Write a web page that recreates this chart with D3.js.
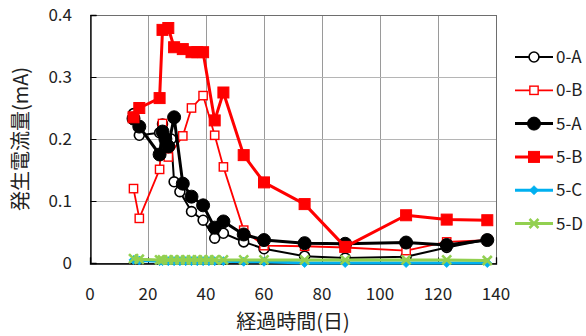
<!DOCTYPE html>
<html>
<head>
<meta charset="utf-8">
<script src="https://cdn.jsdelivr.net/npm/d3@7"></script>
<style>
  html, body { margin: 0; padding: 0; background: #fff; }
  svg text { font-family: "Noto Sans CJK JP", "Noto Sans", sans-serif; fill: #222; }
</style>
</head>
<body>
<svg id="chart" width="586" height="336"></svg>
<script>
// Elapsed days and generated current (mA) for each test body
const daysA0 = [15, 17, 24, 25, 28, 29, 31, 35, 39, 43, 46, 53, 60, 74, 88, 109, 123, 137];
const valsA0 = [0.241, 0.206, 0.21, 0.224, 0.2, 0.131, 0.115, 0.083, 0.069, 0.04, 0.048, 0.034, 0.023, 0.011, 0.008, 0.01, 0.025, 0.038];

const daysB0 = [15, 17, 24, 25, 27, 32, 35, 39, 43, 46, 53, 60, 74, 88, 109, 123, 137];
const valsB0 = [0.12, 0.072, 0.151, 0.225, 0.171, 0.205, 0.25, 0.27, 0.206, 0.155, 0.053, 0.028, 0.027, 0.025, 0.02, 0.034, 0.037];

const daysA5 = [15, 17, 24, 25, 26, 27, 29, 32, 35, 39, 43, 46, 53, 60, 74, 88, 109, 123, 137];
const valsA5 = [0.233, 0.22, 0.175, 0.212, 0.2, 0.188, 0.235, 0.128, 0.107, 0.093, 0.057, 0.067, 0.046, 0.037, 0.032, 0.031, 0.033, 0.029, 0.037];

const daysB5 = [15, 17, 24, 25, 27, 29, 32, 35, 37, 39, 43, 46, 53, 60, 74, 88, 109, 123, 137];
const valsB5 = [0.235, 0.25, 0.266, 0.376, 0.379, 0.348, 0.345, 0.34, 0.34, 0.34, 0.23, 0.275, 0.174, 0.13, 0.095, 0.026, 0.077, 0.07, 0.069];

const daysCD5 = [15, 17, 24, 25, 27, 29, 31, 33, 35, 37, 39, 41, 43, 46, 53, 60, 74, 88, 109, 123, 137];
const valsC5 = [0.005, 0.004, 0.003, 0.003, 0.003, 0.003, 0.003, 0.003, 0.003, 0.003, 0.003, 0.003, 0.003, 0.003, 0.002, 0.002, 0, 0, 0, 0, 0];
const valsD5 = [0.007, 0.006, 0.005, 0.005, 0.005, 0.005, 0.005, 0.005, 0.005, 0.005, 0.005, 0.005, 0.005, 0.005, 0.005, 0.005, 0.005, 0.005, 0.005, 0.005, 0.004];

const xTicks = [0, 20, 40, 60, 80, 100, 120, 140];
const yTicks = [0, 0.1, 0.2, 0.3, 0.4];
const seriesNames = ["0-A", "0-B", "5-A", "5-B", "5-C", "5-D"];

const series = [
  { name: seriesNames[0], days: daysA0, vals: valsA0, color: "#000000", width: 2, marker: "circle", fill: false, size: 11.5 },
  { name: seriesNames[1], days: daysB0, vals: valsB0, color: "#ff0000", width: 1.8, marker: "square", fill: false, size: 9.5 },
  { name: seriesNames[2], days: daysA5, vals: valsA5, color: "#000000", width: 3, marker: "circle", fill: true, size: 13 },
  { name: seriesNames[3], days: daysB5, vals: valsB5, color: "#ff0000", width: 3, marker: "square", fill: true, size: 11 },
  { name: seriesNames[4], days: daysCD5, vals: valsC5, color: "#00b0f0", width: 3, marker: "diamond", fill: true, size: 9 },
  { name: seriesNames[5], days: daysCD5, vals: valsD5, color: "#92d050", width: 3, marker: "x", fill: false, size: 10 }
];

const svg = d3.select("#chart");
const plot = { left: 90, right: 496, top: 15, bottom: 263 };

const x = d3.scaleLinear().domain([0, 140]).range([plot.left, plot.right]);
const y = d3.scaleLinear().domain([0, 0.4]).range([plot.bottom, plot.top]);

// gridlines
const grid = svg.append("g");
grid.selectAll("line.v").data(xTicks.slice(1)).join("line")
  .attr("x1", d => x(d) + 0.5).attr("x2", d => x(d) + 0.5)
  .attr("y1", plot.top).attr("y2", plot.bottom)
  .attr("stroke", "#9a9a9a").attr("stroke-width", 1);
grid.selectAll("line.h").data(yTicks.slice(1)).join("line")
  .attr("x1", plot.left).attr("x2", plot.right)
  .attr("y1", d => Math.round(y(d)) + 0.5).attr("y2", d => Math.round(y(d)) + 0.5)
  .attr("stroke", "#b5b5b5").attr("stroke-width", 1);

// frame
svg.append("rect")
  .attr("x", plot.left + 0.5).attr("y", plot.top + 0.5)
  .attr("width", plot.right - plot.left).attr("height", plot.bottom - plot.top)
  .attr("fill", "none").attr("stroke", "#6e6e6e").attr("stroke-width", 1);

// axes with inward ticks
const yAxis = d3.axisRight(y).tickValues(yTicks).tickSize(6).tickFormat("");
svg.append("g").attr("transform", `translate(${plot.left + 0.5},0)`).call(yAxis)
  .call(g => g.select(".domain").attr("stroke", "#000").attr("stroke-width", 1.3))
  .call(g => g.selectAll(".tick line").attr("stroke", "#000"));
const xAxis = d3.axisTop(x).tickValues(xTicks).tickSize(6).tickFormat("");
svg.append("g").attr("transform", `translate(0,${plot.bottom + 0.5})`).call(xAxis)
  .call(g => g.select(".domain").attr("stroke", "#000").attr("stroke-width", 1.3))
  .call(g => g.selectAll(".tick line").attr("stroke", "#000"));

// tick labels
svg.append("g").selectAll("text").data(yTicks).join("text")
  .attr("x", 72).attr("y", d => y(d)).attr("dy", "0.36em")
  .attr("text-anchor", "end").attr("font-size", 17)
  .text(d => d === 0 ? "0" : d3.format(".1f")(d));
svg.append("g").selectAll("text").data(xTicks).join("text")
  .attr("x", d => x(d)).attr("y", 300)
  .attr("text-anchor", "middle").attr("font-size", 17)
  .text(d => d);

// axis titles
svg.append("text").attr("x", 293).attr("y", 329)
  .attr("text-anchor", "middle").attr("font-size", 20).text("経過時間(日)");
svg.append("text")
  .attr("transform", `translate(28,${(plot.top + plot.bottom) / 2}) rotate(-90)`)
  .attr("text-anchor", "middle").attr("font-size", 20).text("発生電流量(mA)");

function drawMarker(g, s, cx, cy) {
  const r = s.size / 2;
  if (s.marker === "circle") {
    g.append("circle").attr("cx", cx).attr("cy", cy).attr("r", s.fill ? r : r - 0.8)
      .attr("fill", s.fill ? s.color : "#fff")
      .attr("stroke", s.color).attr("stroke-width", s.fill ? 1 : 1.6);
  } else if (s.marker === "square") {
    const h = s.fill ? r : r - 0.6;
    g.append("rect").attr("x", cx - h).attr("y", cy - h).attr("width", 2 * h).attr("height", 2 * h)
      .attr("fill", s.fill ? s.color : "#fff")
      .attr("stroke", s.color).attr("stroke-width", s.fill ? 1 : 1.4);
  } else if (s.marker === "diamond") {
    g.append("path")
      .attr("d", `M${cx},${cy - r}L${cx + r},${cy}L${cx},${cy + r}L${cx - r},${cy}Z`)
      .attr("fill", s.color).attr("stroke", s.color).attr("stroke-width", 0.8);
  } else if (s.marker === "x") {
    const h = r * 0.9;
    g.append("path")
      .attr("d", `M${cx - h},${cy - h}L${cx + h},${cy + h}M${cx - h},${cy + h}L${cx + h},${cy - h}`)
      .attr("stroke", s.color).attr("stroke-width", 2.6).attr("fill", "none");
  }
}

// series
const line = d3.line().x(d => x(d[0])).y(d => y(d[1]));
series.forEach(s => {
  const pts = s.days.map((d, i) => [d, s.vals[i]]);
  const g = svg.append("g");
  g.append("path").datum(pts).attr("d", line)
    .attr("fill", "none").attr("stroke", s.color).attr("stroke-width", s.width)
    .attr("stroke-linejoin", "round");
  pts.forEach(p => drawMarker(g, s, x(p[0]), y(p[1])));
});

// legend
const legend = svg.append("g");
series.forEach((s, i) => {
  const ly = 57 + i * 33.3;
  const g = legend.append("g");
  g.append("line").attr("x1", 515).attr("x2", 553).attr("y1", ly).attr("y2", ly)
    .attr("stroke", s.color).attr("stroke-width", s.width);
  drawMarker(g, s, 534, ly);
  g.append("text").attr("x", 556).attr("y", ly).attr("dy", "0.36em")
    .attr("font-size", 17).text(s.name);
});
</script>
</body>
</html>
